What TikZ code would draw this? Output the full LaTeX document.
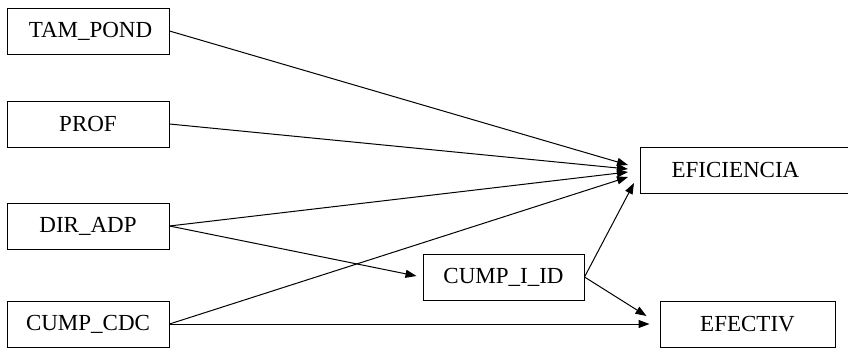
\documentclass[tikz,border=0pt]{standalone}
\usepackage{fontspec}
\setmainfont{Liberation Serif}
\usetikzlibrary{arrows.meta}
\begin{document}
\begin{tikzpicture}[x=1pt,y=-1pt,
  box/.style={draw,line width=1pt,minimum height=46pt,inner sep=0pt,font=\fontsize{23}{25}\selectfont},
  edge/.style={line width=1pt,-{Triangle[length=11pt,width=8pt]}}]
\useasboundingbox (0,0) rectangle (848,348);
\clip (0,0) rectangle (848,348);
\node[box,minimum width=162pt] (tam) at (88,31) {\hspace*{5pt}TAM\_POND};
\node[box,minimum width=162pt] (prof) at (88,124) {PROF};
\node[box,minimum width=162pt] (dir) at (88,226) {DIR\_ADP};
\node[box,minimum width=162pt] (cdc) at (88,324) {CUMP\_CDC};
\node[box,minimum width=161pt] (cid) at (503.5,277) {CUMP\_I\_ID};
\node[box,minimum width=175pt] (efe) at (747.5,324) {EFECTIV};
\node[box,anchor=west,inner xsep=31pt,text width=190pt,align=left] (efi) at (640,170) {EFICIENCIA};
\draw[edge] (tam.east) -- ([shift={(-12,-5)}]efi.west);
\draw[edge] (prof.east) -- ([shift={(-12,-1)}]efi.west);
\draw[edge] (dir.east) -- ([shift={(-12,2)}]efi.west);
\draw[edge] (cdc.east) -- ([shift={(-12,7)}]efi.west);
\draw[edge] (dir.east) -- ([shift={(-6,-1)}]cid.west);
\draw[edge] (cdc.east) -- ([shift={(-10,0)}]efe.west);
\draw[edge] (cid.east) -- ([shift={(-6,13)}]efi.west);
\draw[edge] (cid.east) -- ([shift={(-13,-8)}]efe.west);
\end{tikzpicture}
\end{document}
